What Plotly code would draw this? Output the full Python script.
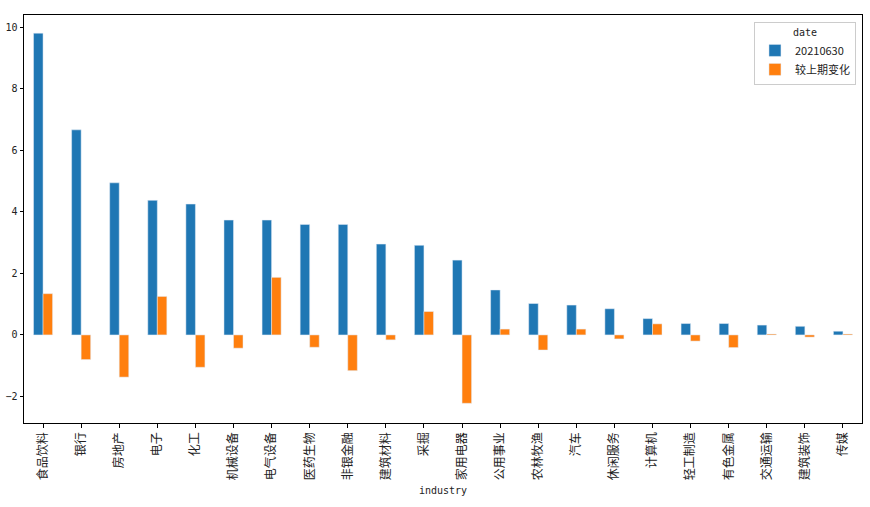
import plotly.graph_objects as go

industries = ["食品饮料", "银行", "房地产", "电子", "化工", "机械设备", "电气设备", "医药生物",
              "非银金融", "建筑材料", "采掘", "家用电器", "公用事业", "农林牧渔", "汽车", "休闲服务",
              "计算机", "轻工制造", "有色金属", "交通运输", "建筑装饰", "传媒"]
val_20210630 = [9.80, 6.66, 4.94, 4.37, 4.25, 3.73, 3.73, 3.59, 3.59, 2.95, 2.91, 2.43,
                1.46, 1.02, 0.97, 0.85, 0.53, 0.37, 0.37, 0.32, 0.28, 0.12]
val_change = [1.34, -0.80, -1.37, 1.25, -1.05, -0.43, 1.87, -0.40, -1.16, -0.16, 0.76, -2.22,
              0.19, -0.49, 0.19, -0.13, 0.36, -0.20, -0.41, 0.03, -0.07, 0.03]
y_ticks = [-2, 0, 2, 4, 6, 8, 10]

fig = go.Figure()
fig.add_trace(go.Bar(x=industries, y=val_20210630, name="20210630", marker_color="#1f77b4"))
fig.add_trace(go.Bar(x=industries, y=val_change, name="较上期变化", marker_color="#ff7f0e"))

n = len(industries)
fig.update_layout(
    width=870, height=507,
    margin=dict(l=24, r=8, t=15, b=84),
    paper_bgcolor="white", plot_bgcolor="white",
    barmode="group", bargap=0.5, bargroupgap=0,
    showlegend=True,
    legend=dict(
        x=0.9928, y=0.983, xanchor="right", yanchor="top",
        bordercolor="#cccccc", borderwidth=1, bgcolor="rgba(255,255,255,0.8)",
        tracegroupgap=0, itemwidth=30,
        title=dict(text="date", side="top center",
                   font=dict(family="DejaVu Sans Mono", size=10, color="#222")),
        font=dict(family="Noto Sans CJK SC", size=11, color="#222"),
    ),
    xaxis=dict(
        range=[-0.5, n - 0.5], showline=True, linecolor="black", linewidth=1, mirror=True,
        ticks="outside", ticklen=3.5, tickcolor="black", tickangle=-90,
        tickfont=dict(family="Noto Sans CJK SC", size=12, color="#222"),
        showgrid=False, zeroline=False, automargin=False,
        title=dict(text="industry", standoff=7,
                   font=dict(family="DejaVu Sans Mono", size=10, color="#222")),
    ),
    yaxis=dict(
        range=[-2.86, 10.39], showline=True, linecolor="black", linewidth=1, mirror=True,
        ticks="outside", ticklen=3.5, tickcolor="black", tickvals=y_ticks,
        tickfont=dict(family="DejaVu Sans Mono", size=10, color="#222"),
        showgrid=False, zeroline=False, automargin=False,
    ),
)
fig.write_html("out.html", config={"displayModeBar": False},
               post_script="document.body.style.margin='0';document.body.style.padding='0';")
